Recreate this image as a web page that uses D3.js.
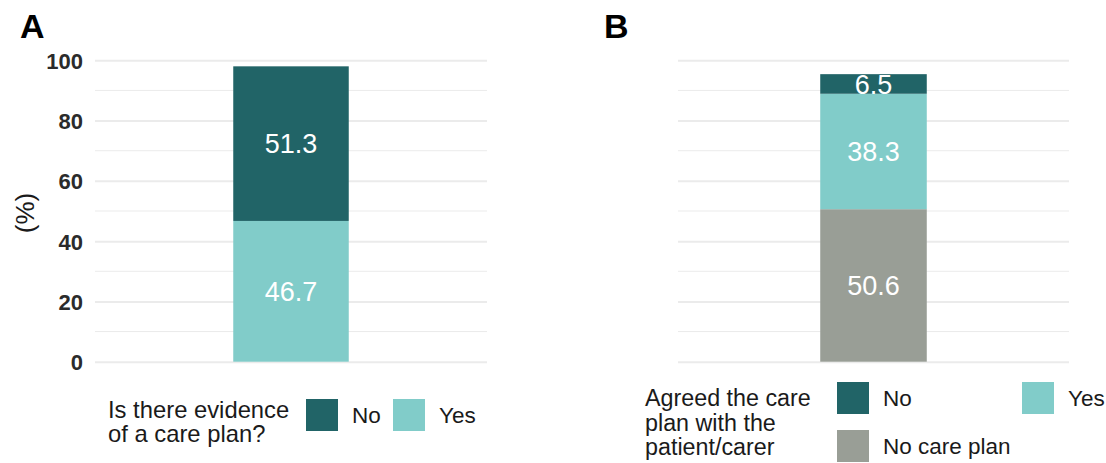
<!DOCTYPE html>
<html>
<head>
<meta charset="utf-8">
<script src="https://cdn.jsdelivr.net/npm/d3@7"></script>
<style>
  html, body { margin: 0; padding: 0; background: #ffffff; }
  svg { display: block; font-family: "Liberation Sans", Arial, sans-serif; }
</style>
</head>
<body>
<svg id="chart" width="1106" height="463"></svg>
<script>
// ---- Data ----
const yTicks = [0, 20, 40, 60, 80, 100];
const yMinorTicks = [10, 30, 50, 70, 90];

const panelA_categories = ["Yes", "No"];           // stacking order bottom -> top
const panelA_values = [46.7, 51.3];
const panelA_legendOrder = ["No", "Yes"];
const panelA_title = ["Is there evidence", "of a care plan?"];

const panelB_categories = ["No care plan", "Yes", "No"]; // bottom -> top
const panelB_values = [50.6, 38.3, 6.5];
const panelB_legendOrder = ["No", "Yes", "No care plan"];
const panelB_title = ["Agreed the care", "plan with the", "patient/carer"];

const colorMap = { "No": "#216467", "Yes": "#81CCC9", "No care plan": "#999E96" };

// ---- Layout ----
const svg = d3.select("#chart");
const y = d3.scaleLinear().domain([0, 100]).range([361.7, 60.3]);

function drawPanel(opts) {
  const g = svg.append("g");
  const x = d3.scaleBand().domain(["all"]).range([opts.x0, opts.x1])
    .paddingInner(0).paddingOuter(opts.pad);

  // minor grid
  g.selectAll("line.minor").data(yMinorTicks).join("line")
    .attr("x1", opts.x0).attr("x2", opts.x1)
    .attr("y1", d => y(d)).attr("y2", d => y(d))
    .attr("stroke", "#ebebeb").attr("stroke-width", 1);

  // major grid via axis
  const grid = g.append("g").attr("transform", `translate(${opts.x0},0)`)
    .call(d3.axisLeft(y).tickValues(yTicks).tickSize(-(opts.x1 - opts.x0)).tickFormat(""));
  grid.select(".domain").remove();
  grid.selectAll(".tick line").attr("stroke", "#ebebeb").attr("stroke-width", 2);

  if (opts.showAxis) {
    const ax = g.append("g").attr("transform", `translate(${opts.x0 - 12},0)`)
      .call(d3.axisLeft(y).tickValues(yTicks).tickSize(0).tickPadding(0));
    ax.select(".domain").remove();
    ax.selectAll(".tick text")
      .attr("font-family", "'Liberation Sans', Arial, sans-serif")
      .attr("font-size", 22).attr("font-weight", "bold").attr("fill", "#2b2b2b")
      .attr("dy", "0.36em");
    g.append("text")
      .attr("transform", `translate(34,${(y(0) + y(100)) / 2 + 2}) rotate(-90)`)
      .attr("text-anchor", "middle")
      .attr("font-size", 26).attr("fill", "#1a1a1a")
      .text("(%)");
  }

  // stacked segments
  let cum = 0;
  const segs = opts.cats.map((c, i) => {
    const s = { cat: c, v: opts.vals[i], y0: cum, y1: cum + opts.vals[i] };
    cum += opts.vals[i];
    return s;
  });
  g.selectAll("rect.seg").data(segs).join("rect")
    .attr("x", x("all")).attr("width", x.bandwidth())
    .attr("y", d => y(d.y1)).attr("height", d => y(d.y0) - y(d.y1))
    .attr("fill", d => colorMap[d.cat]);
  g.selectAll("text.val").data(segs).join("text")
    .attr("x", x("all") + x.bandwidth() / 2)
    .attr("y", d => y((d.y0 + d.y1) / 2))
    .attr("dy", "0.36em")
    .attr("text-anchor", "middle")
    .attr("font-size", 27).attr("fill", "#ffffff")
    .text(d => d.v.toFixed(1));

  // panel letter
  svg.append("text").attr("x", opts.letterX).attr("y", 38)
    .attr("font-size", 34).attr("font-weight", "bold").attr("fill", "#000")
    .text(opts.letter);

  // legend title
  g.append("text").attr("x", opts.legTitleX).attr("y", opts.legTitleY)
    .attr("font-size", opts.titleSize).attr("fill", "#1a1a1a")
    .selectAll("tspan").data(opts.title).join("tspan")
    .attr("x", opts.legTitleX).attr("dy", (d, i) => i === 0 ? 0 : opts.titleLead)
    .text(d => d);

  // legend keys
  const items = g.selectAll("g.leg").data(opts.legend).join("g")
    .attr("transform", d => `translate(${d.x},${d.y})`);
  items.append("rect").attr("width", 32).attr("height", 32)
    .attr("fill", d => colorMap[d.cat]);
  items.append("text").attr("x", 46).attr("y", 16).attr("dy", "0.36em")
    .attr("font-size", 22.5).attr("fill", "#1a1a1a")
    .text(d => d.cat);
}

drawPanel({
  x0: 95, x1: 487, pad: 1.197, showAxis: true,
  cats: panelA_categories, vals: panelA_values,
  letter: "A", letterX: 20,
  title: panelA_title, legTitleX: 108, legTitleY: 417.5, titleSize: 23.8, titleLead: 24.8,
  legend: [
    { cat: panelA_legendOrder[0], x: 306, y: 399 },
    { cat: panelA_legendOrder[1], x: 393, y: 399 }
  ]
});

drawPanel({
  x0: 678, x1: 1069, pad: 1.335, showAxis: false,
  cats: panelB_categories, vals: panelB_values,
  letter: "B", letterX: 604,
  title: panelB_title, legTitleX: 645, legTitleY: 406, titleSize: 23.3, titleLead: 24.7,
  legend: [
    { cat: panelB_legendOrder[0], x: 837, y: 382 },
    { cat: panelB_legendOrder[1], x: 1022, y: 382 },
    { cat: panelB_legendOrder[2], x: 837, y: 430 }
  ]
});
</script>
</body>
</html>
